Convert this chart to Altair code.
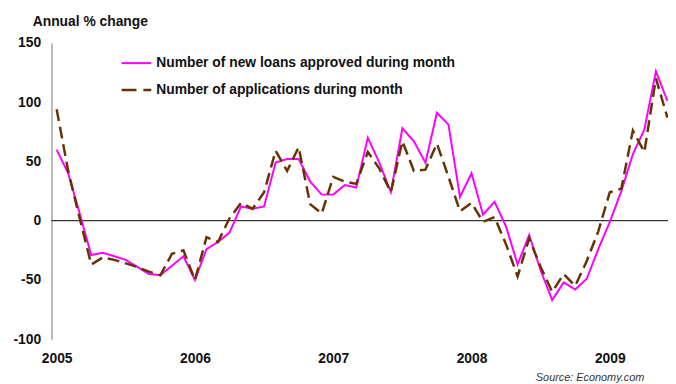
import altair as alt
import pandas as pd

# ---------------- data ----------------
months = [
    "2005-01", "2005-02", "2005-03", "2005-04", "2005-05", "2005-06",
    "2005-07", "2005-08", "2005-09", "2005-10", "2005-11", "2005-12",
    "2006-01", "2006-02", "2006-03", "2006-04", "2006-05", "2006-06",
    "2006-07", "2006-08", "2006-09", "2006-10", "2006-11", "2006-12",
    "2007-01", "2007-02", "2007-03", "2007-04", "2007-05", "2007-06",
    "2007-07", "2007-08", "2007-09", "2007-10", "2007-11", "2007-12",
    "2008-01", "2008-02", "2008-03", "2008-04", "2008-05", "2008-06",
    "2008-07", "2008-08", "2008-09", "2008-10", "2008-11", "2008-12",
    "2009-01", "2009-02", "2009-03", "2009-04", "2009-05", "2009-06",
]

loans_approved = [
    60, 40, 6, -29, -27, -30, -33, -39, -45, -46, -38, -30,
    -50, -24, -18, -10, 12, 10, 12, 49, 52, 52, 33, 22,
    22, 30, 28, 70, 49, 24, 78, 67, 49, 91, 81, 20,
    40, 5, 16, -5, -37, -12, -42, -67, -52, -58, -49, -24,
    -1, 25, 56, 77, 126, 101,
]

applications = [
    94, 42, 2, -37, -31, -33, -36, -39, -43, -46, -28, -25,
    -50, -14, -18, 2, 15, 10, 24, 59, 42, 62, 14, 6,
    37, 33, 31, 58, 44, 24, 67, 42, 43, 65, 37, 8,
    15, -1, 3, -20, -47, -15, -39, -60, -45, -55, -34, -9,
    24, 27, 76, 58, 120, 87,
]

series_names = [
    "Number of new loans approved during month",
    "Number of applications during month",
]
series_colors = ["#FF00FF", "#663300"]

year_labels = ["2005", "2006", "2007", "2008", "2009"]
year_ticks = [0, 12, 24, 36, 48]
y_ticks = [-100, -50, 0, 50, 100, 150]
y_title = "Annual % change"
source_text = "Source: Economy.com"

# ---------------- tables ----------------
loans_df = pd.DataFrame({"t": list(range(len(months))), "month": months,
                         "value": loans_approved, "series": series_names[0]})
apps_df = pd.DataFrame({"t": list(range(len(months))), "month": months,
                        "value": applications, "series": series_names[1]})
legend_df = pd.DataFrame({"series": series_names, "color": series_colors})

FONT = "Liberation Sans"
TXT = "#111111"

label_expr = ("[" + ",".join(f"'{s}'" for s in year_labels) + "][indexof(["
              + ",".join(str(v) for v in year_ticks) + "], datum.value)]")

x_enc = alt.X(
    "t:Q",
    scale=alt.Scale(domain=[-0.45, 53.05], nice=False, zero=False),
    axis=alt.Axis(values=year_ticks, labelExpr=label_expr, domain=False,
                  ticks=False, tickSize=0, grid=False, title=None,
                  labelFont=FONT, labelFontSize=14, labelFontWeight="bold",
                  labelColor=TXT, labelPadding=20, labelBaseline="middle",
                  labelFlush=False),
)
y_enc = alt.Y(
    "value:Q",
    scale=alt.Scale(domain=[-100, 150], nice=False, zero=False),
    axis=alt.Axis(values=y_ticks, labelExpr="'' + datum.value",
                  domain=True, domainColor="#777777",
                  domainWidth=1, ticks=False, tickSize=0, grid=False,
                  title=None, labelFont=FONT, labelFontSize=14,
                  labelFontWeight="bold", labelColor=TXT, labelPadding=11),
)

zero_line = alt.Chart(pd.DataFrame({"value": [0]})).mark_rule(
    color="black", strokeWidth=1
).encode(y="value:Q")

loans_line = alt.Chart(loans_df).mark_line(
    color=series_colors[0], strokeWidth=2
).encode(x=x_enc, y=y_enc)

apps_line = alt.Chart(apps_df).mark_line(
    color=series_colors[1], strokeWidth=2.5, strokeDash=[12, 6]
).encode(x="t:Q", y="value:Q")

# legend (drawn by hand, as in the original)
leg1_line = alt.Chart(legend_df.iloc[[0]]).mark_rule(
    color=series_colors[0], strokeWidth=2
).encode(x=alt.value(71), x2=alt.value(101), y=alt.value(20.5))
leg2_line = alt.Chart(legend_df.iloc[[1]]).mark_rule(
    color=series_colors[1], strokeWidth=2.5, strokeDash=[15, 7]
).encode(x=alt.value(71), x2=alt.value(101), y=alt.value(47.7))
leg1_text = alt.Chart(legend_df.iloc[[0]]).mark_text(
    align="left", baseline="middle", font=FONT, fontSize=14,
    fontWeight="bold", color=TXT
).encode(x=alt.value(106), y=alt.value(20.5), text="series:N")
leg2_text = alt.Chart(legend_df.iloc[[1]]).mark_text(
    align="left", baseline="middle", font=FONT, fontSize=14,
    fontWeight="bold", color=TXT
).encode(x=alt.value(106), y=alt.value(47.7), text="series:N")

title_text = alt.Chart(pd.DataFrame({"label": [y_title]})).mark_text(
    align="left", baseline="middle", font=FONT, fontSize=14,
    fontWeight="bold", color=TXT
).encode(x=alt.value(-19), y=alt.value(-21), text="label:N")

src_text = alt.Chart(pd.DataFrame({"label": [source_text]})).mark_text(
    align="right", baseline="middle", font=FONT, fontSize=11,
    fontStyle="italic", color="#333333"
).encode(x=alt.value(600), y=alt.value(339), text="label:N")

chart = alt.layer(
    zero_line, loans_line, apps_line,
    leg1_line, leg2_line, leg1_text, leg2_text, title_text, src_text,
).properties(
    width=624, height=300,
    autosize=alt.AutoSizeParams(type="none"),
    padding={"left": 44, "top": 33, "right": 0, "bottom": 43},
    background="white",
).configure_view(stroke=None)

chart.save("out.html", embed_options={"renderer": "svg", "actions": False})
